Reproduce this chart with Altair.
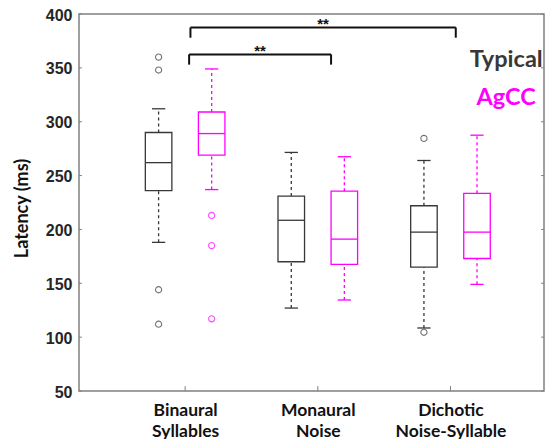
import altair as alt
import pandas as pd

# ---------------- data ----------------
cat_line1 = ["Binaural", "Monaural", "Dichotic"]
cat_line2 = ["Syllables", "Noise", "Noise-Syllable"]
cat_index = [1, 2, 3]
groups = ["Typical", "AgCC"]

typical_lo = [188, 127, 108.5]
typical_q1 = [236, 170, 165]
typical_med = [262, 208.5, 197.5]
typical_q3 = [290, 231, 222]
typical_hi = [312, 271.5, 264]

agcc_lo = [237, 134.5, 149]
agcc_q1 = [269, 167.5, 173]
agcc_med = [289, 191, 197.5]
agcc_q3 = [309, 235.5, 233.5]
agcc_hi = [349, 267.5, 287.5]

typical_out_cat = [1, 1, 1, 1, 3, 3]
typical_out_val = [360, 348, 144, 112, 284.5, 104.5]
agcc_out_cat = [1, 1, 1]
agcc_out_val = [213, 185, 117]

bracket_x1 = [1.03, 1.04]
bracket_x2 = [2.10, 3.04]
bracket_top = [362.5, 387.5]
bracket_bottom = [353, 378]
bracket_label = ["**", "**"]

y_ticks = [50, 100, 150, 200, 250, 300, 350, 400]

# ---------------- layout constants ----------------
X_DOMAIN = [0.2, 3.705]
Y_DOMAIN = [50, 400]
OFFSET = {"Typical": -0.2, "AgCC": 0.2}
BOX_HALF = 0.1
CAP_HALF = 0.05
COLORS = ["#383838", "#ff00ff"]

rows = []
for g, lo, q1, med, q3, hi in [
    ("Typical", typical_lo, typical_q1, typical_med, typical_q3, typical_hi),
    ("AgCC", agcc_lo, agcc_q1, agcc_med, agcc_q3, agcc_hi),
]:
    for i, c in enumerate(cat_index):
        pos = c + OFFSET[g]
        rows.append(dict(group=g, pos=pos, left=pos - BOX_HALF, right=pos + BOX_HALF,
                         capL=pos - CAP_HALF, capR=pos + CAP_HALF,
                         lo=lo[i], q1=q1[i], med=med[i], q3=q3[i], hi=hi[i]))
box_df = pd.DataFrame(rows)

out_rows = []
for g, cats, vals in [("Typical", typical_out_cat, typical_out_val),
                      ("AgCC", agcc_out_cat, agcc_out_val)]:
    for c, v in zip(cats, vals):
        out_rows.append(dict(group=g, pos=c + OFFSET[g], val=v))
out_df = pd.DataFrame(out_rows)

br_df = pd.DataFrame(dict(x1=bracket_x1, x2=bracket_x2, top=bracket_top,
                          bottom=bracket_bottom, label=bracket_label))
br_df["mid"] = (br_df.x1 + br_df.x2) / 2
legs_df = pd.concat([
    pd.DataFrame(dict(x=br_df.x1, top=br_df.top, bottom=br_df.bottom)),
    pd.DataFrame(dict(x=br_df.x2, top=br_df.top, bottom=br_df.bottom)),
])

leg_df = pd.DataFrame(dict(group=groups, x=[3.42, 3.42], y=[357, 322]))

ytick_df = pd.DataFrame(dict(v=y_ticks))
ytick_df["x0"] = X_DOMAIN[0]
ytick_df["x1"] = X_DOMAIN[0] + 0.022
ytick_df["xr0"] = X_DOMAIN[1] - 0.022
ytick_df["xr1"] = X_DOMAIN[1]
xtick_df = pd.DataFrame(dict(c=cat_index))
xtick_df["y0"] = Y_DOMAIN[0]
xtick_df["y1"] = Y_DOMAIN[0] + 4.5

# ---------------- scales / axes ----------------
label_expr = " : ".join(
    f"datum.value == {c} ? ['{a}', '{b}']" for c, a, b in zip(cat_index[:-1], cat_line1[:-1], cat_line2[:-1])
) + f" : ['{cat_line1[-1]}', '{cat_line2[-1]}']"

xscale = alt.Scale(domain=X_DOMAIN, nice=False, zero=False)
yscale = alt.Scale(domain=Y_DOMAIN, nice=False, zero=False)
xaxis = alt.Axis(values=cat_index, labelExpr=label_expr, ticks=False, domain=False, grid=False,
                 labelFont="Lato", labelFontWeight="bold", labelFontSize=17.5, labelColor="#111111",
                 labelPadding=10, labelLineHeight=21, labelAngle=0)
yaxis = alt.Axis(values=y_ticks, ticks=False, domain=False, grid=False,
                 labelFont="Liberation Sans", labelFontWeight="bold", labelFontSize=16,
                 labelColor="#262626", labelPadding=7, labelOffset=1,
                 title="Latency (ms)", titleFont="Lato", titleFontWeight="bold", titleFontSize=18,
                 titleColor="#111111", titleX=-57, titleY=194, titleBaseline="middle")


def X(f):
    return alt.X(f, type="quantitative", scale=xscale, axis=xaxis, title=None)


def Y(f):
    return alt.Y(f, type="quantitative", scale=yscale, axis=yaxis, title="Latency (ms)")


col = alt.Color("group:N", scale=alt.Scale(domain=groups, range=COLORS), legend=None)

base = alt.Chart(box_df)
boxes = base.mark_rect(fillOpacity=0, strokeWidth=1.3).encode(
    x=X("left"), x2="right", y=Y("q1"), y2="q3",
    stroke=alt.Stroke("group:N", scale=alt.Scale(domain=groups, range=COLORS), legend=None))
medians = base.mark_rule(strokeWidth=1.3).encode(x=X("left"), x2="right", y=Y("med"), color=col)
wh_up = base.mark_rule(strokeWidth=1.3, strokeDash=[3, 3]).encode(x=X("pos"), y=Y("q3"), y2="hi", color=col)
wh_lo = base.mark_rule(strokeWidth=1.3, strokeDash=[3, 3]).encode(x=X("pos"), y=Y("lo"), y2="q1", color=col)
cap_up = base.mark_rule(strokeWidth=1.3).encode(x=X("capL"), x2="capR", y=Y("hi"), color=col)
cap_lo = base.mark_rule(strokeWidth=1.3).encode(x=X("capL"), x2="capR", y=Y("lo"), color=col)

outliers = alt.Chart(out_df).mark_point(shape="circle", size=38, filled=False, strokeWidth=1.1).encode(
    x=X("pos"), y=Y("val"), color=col)

br_h = alt.Chart(br_df).mark_rule(color="#111111", strokeWidth=2).encode(x=X("x1"), x2="x2", y=Y("top"))
br_v = alt.Chart(legs_df).mark_rule(color="#111111", strokeWidth=2).encode(x=X("x"), y=Y("bottom"), y2="top")
stars = alt.Chart(br_df).mark_text(font="Liberation Sans", fontWeight="bold", fontSize=15,
                                   color="#111111", baseline="bottom", dy=5).encode(
    x=X("mid"), y=Y("top"), text="label:N")

legend_txt = alt.Chart(leg_df).mark_text(font="Lato", fontWeight="bold", fontSize=23.5,
                                         baseline="middle", align="center").encode(
    x=X("x"), y=Y("y"), text="group:N", color=col)

lt = alt.Chart(ytick_df).mark_rule(color="#808080", strokeWidth=1).encode(x=X("x0"), x2="x1", y=Y("v"))
rt = alt.Chart(ytick_df).mark_rule(color="#808080", strokeWidth=1).encode(x=X("xr0"), x2="xr1", y=Y("v"))
bt = alt.Chart(xtick_df).mark_rule(color="#808080", strokeWidth=1).encode(x=X("c"), y=Y("y0"), y2="y1")

chart = alt.layer(
    lt, rt, bt, boxes, medians, wh_up, wh_lo, cap_up, cap_lo, outliers, br_h, br_v, stars, legend_txt
).properties(
    width=465, height=377,
    autosize=alt.AutoSizeParams(type="none"),
    padding={"left": 71, "top": 6, "right": 1, "bottom": 48},
).configure_view(stroke="#808080", strokeWidth=1.5)

chart.save("out.html", embed_options={"renderer": "svg", "actions": False})
